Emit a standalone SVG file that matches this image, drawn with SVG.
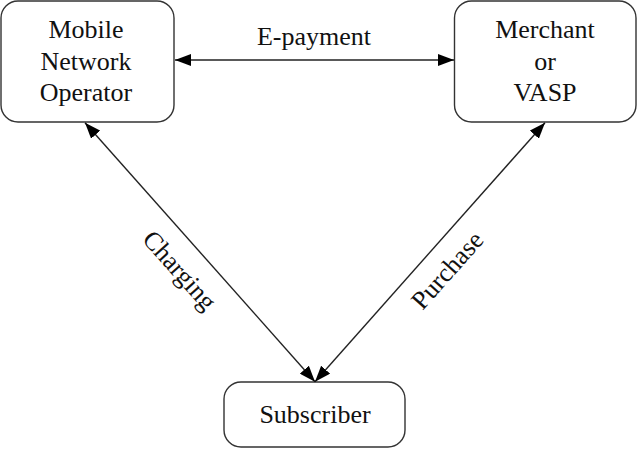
<svg xmlns="http://www.w3.org/2000/svg" width="641" height="450" viewBox="0 0 641 450">
<style>
.box{fill:#fff;stroke:#333;stroke-width:1.4}
.t{font-family:"Liberation Serif","Times New Roman",serif;font-size:26px;fill:#111;text-anchor:middle}
.c{stroke:#222;stroke-width:1.4;fill:none;marker-start:url(#ah);marker-end:url(#ah)}
</style>
<defs>
<marker id="ah" viewBox="0 0 16 12" refX="16" refY="6" markerWidth="16" markerHeight="12" markerUnits="userSpaceOnUse" orient="auto-start-reverse">
<path d="M0,0 L16,6 L0,12 Z" fill="#000"/>
</marker>
</defs>
<rect width="641" height="450" fill="#fff"/>
<g id="mno">
<rect class="box" x="1" y="1" width="173" height="121" rx="17"/>
<text class="t" x="86" y="38">Mobile</text>
<text class="t" x="86" y="70">Network</text>
<text class="t" x="86" y="101">Operator</text>
</g>
<g id="merchant">
<rect class="box" x="454.5" y="1" width="181.5" height="121" rx="17"/>
<text class="t" x="545" y="38">Merchant</text>
<text class="t" x="545" y="70">or</text>
<text class="t" x="545" y="101">VASP</text>
</g>
<g id="subscriber">
<rect class="box" x="224" y="382" width="181" height="65" rx="17"/>
<text class="t" x="315" y="423">Subscriber</text>
</g>
<g id="connectors">
<line class="c" x1="175" y1="60" x2="454" y2="60"/>
<line class="c" x1="85" y1="122.7" x2="315" y2="381.7"/>
<line class="c" x1="545" y1="122.7" x2="315" y2="381.7"/>
<text class="t" x="314" y="45">E-payment</text>
<text class="t" transform="translate(180,270) rotate(48.4)" x="0" y="9">Charging</text>
<text class="t" transform="translate(447,270) rotate(-48.4)" x="0" y="9">Purchase</text>
</g>
</svg>
